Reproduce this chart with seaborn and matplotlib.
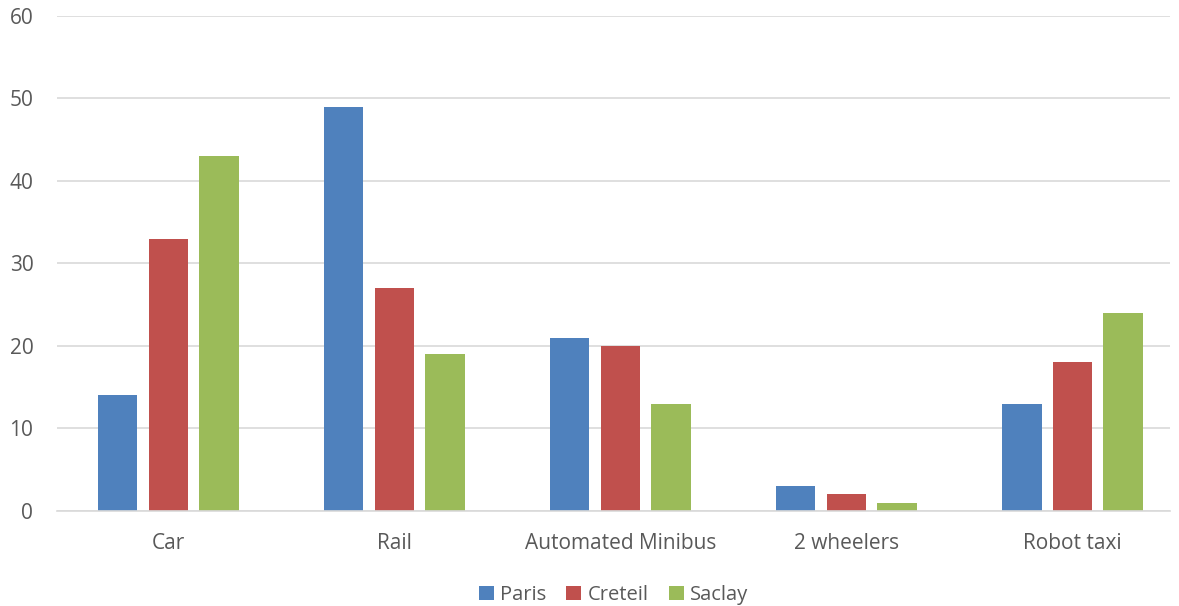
import pandas as pd
import matplotlib
matplotlib.use('Agg')
import matplotlib.pyplot as plt
import seaborn as sns

categorias = ['Car', 'Rail', 'Automated Minibus', '2 wheelers', 'Robot taxi']
paris = [14, 49, 21, 3, 13]
creteil = [33, 27, 20, 2, 18]
saclay = [43, 19, 13, 1, 24]
ciudades = ['Paris', 'Creteil', 'Saclay']
colores = ['#4F81BD', '#C0504D', '#9BBB59']

df = pd.DataFrame({
    'categoria': categorias * 3,
    'ciudad': [c for c in ciudades for _ in categorias],
    'valor': paris + creteil + saclay,
})

sns.set_style('white')
plt.rcParams['font.family'] = ['Open Sans', 'DejaVu Sans']

fig = plt.figure(figsize=(11.79, 6.06), dpi=100)
ax = fig.add_axes([0.0483, 0.1568, 0.944, 0.8168])
sns.barplot(x='categoria', y='valor', hue='ciudad', data=df, palette=colores,
            width=0.674, gap=0.22, saturation=1, linewidth=0, ax=ax)

ax.set_ylim(0, 60)
ax.set_yticks(range(0, 61, 10))
ax.set_xlim(-0.493, 4.431)
ax.yaxis.grid(True, color='#D9D9D9', linewidth=1.2)
ax.set_axisbelow(True)
for s in ['top', 'right', 'left']:
    ax.spines[s].set_visible(False)
ax.spines['bottom'].set_color('#D9D9D9')
ax.spines['bottom'].set_linewidth(1.2)
ax.tick_params(axis='both', length=0, labelsize=15, labelcolor='#595959')
ax.tick_params(axis='y', pad=17)
ax.tick_params(axis='x', pad=16)
ax.set_xlabel('')
ax.set_ylabel('')

ax.legend(loc='upper center', bbox_to_anchor=(0.5, -0.113), ncol=3, frameon=False,
          fontsize=14.5, labelcolor='#595959', handlelength=0.75, handleheight=0.75,
          handletextpad=0.3, columnspacing=1.0)

plt.savefig('out.png', dpi=100)
